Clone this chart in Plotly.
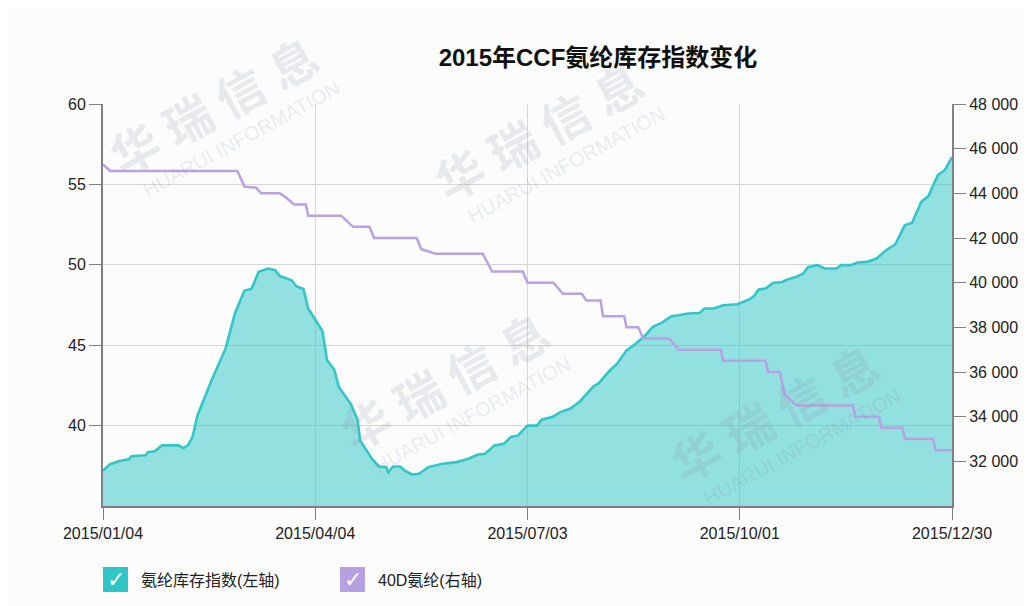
import math
import plotly.graph_objects as go

# ---------------- data ----------------
title_text = "2015年CCF氨纶库存指数变化"
series1_name = "氨纶库存指数(左轴)"
series2_name = "40D氨纶(右轴)"

spandex_index_dates = [
    "2015-01-04", "2015-01-07", "2015-01-11", "2015-01-15", "2015-01-16", "2015-01-22", "2015-01-23", "2015-01-26", "2015-01-29", "2015-02-05",
    "2015-02-07", "2015-02-09", "2015-02-11", "2015-02-13", "2015-02-19", "2015-02-25", "2015-03-01", "2015-03-05", "2015-03-08", "2015-03-11",
    "2015-03-15", "2015-03-18", "2015-03-20", "2015-03-25", "2015-03-27", "2015-03-30", "2015-04-01", "2015-04-07", "2015-04-09", "2015-04-12",
    "2015-04-14", "2015-04-19", "2015-04-22", "2015-04-23", "2015-04-28", "2015-05-01", "2015-05-04", "2015-05-05", "2015-05-07", "2015-05-10",
    "2015-05-12", "2015-05-15", "2015-05-18", "2015-05-22", "2015-05-28", "2015-06-03", "2015-06-08", "2015-06-12", "2015-06-15", "2015-06-19",
    "2015-06-23", "2015-06-26", "2015-06-29", "2015-07-03", "2015-07-07", "2015-07-09", "2015-07-14", "2015-07-17", "2015-07-21", "2015-07-25",
    "2015-07-31", "2015-08-02", "2015-08-07", "2015-08-10", "2015-08-14", "2015-08-18", "2015-08-22", "2015-08-25", "2015-08-29", "2015-09-02",
    "2015-09-05", "2015-09-09", "2015-09-14", "2015-09-16", "2015-09-20", "2015-09-24", "2015-09-30", "2015-10-05", "2015-10-07", "2015-10-09",
    "2015-10-12", "2015-10-15", "2015-10-19", "2015-10-21", "2015-10-25", "2015-10-28", "2015-10-30", "2015-11-03", "2015-11-06", "2015-11-11",
    "2015-11-13", "2015-11-17", "2015-11-20", "2015-11-24", "2015-11-28", "2015-12-02", "2015-12-06", "2015-12-10", "2015-12-13", "2015-12-17",
    "2015-12-20", "2015-12-24", "2015-12-27", "2015-12-30",
]
spandex_index_values = [
    37.2, 37.6, 37.8, 37.9, 38.1, 38.15, 38.35, 38.4, 38.77, 38.77,
    38.6, 38.77, 39.3, 40.6, 42.8, 44.8, 47.0, 48.4, 48.5, 49.56,
    49.77, 49.66, 49.3, 49.04, 48.67, 48.5, 47.28, 45.9, 44.06, 43.5,
    42.4, 41.36, 40.32, 39.08, 37.94, 37.46, 37.42, 37.1, 37.46, 37.46,
    37.2, 36.96, 37.0, 37.42, 37.63, 37.73, 37.94, 38.2, 38.25, 38.77,
    38.87, 39.3, 39.39, 40.0, 40.0, 40.37, 40.57, 40.84, 41.05, 41.47,
    42.44, 42.61, 43.44, 43.85, 44.68, 45.1, 45.62, 46.13, 46.4, 46.8,
    46.86, 46.97, 47.0, 47.28, 47.28, 47.48, 47.55, 47.84, 48.05, 48.46,
    48.52, 48.87, 48.93, 49.08, 49.25, 49.46, 49.87, 49.98, 49.77, 49.77,
    49.98, 49.98, 50.14, 50.18, 50.39, 50.9, 51.28, 52.47, 52.6, 53.92,
    54.27, 55.58, 55.9, 56.7,
]

price_40d_dates = [
    "2015-01-04", "2015-01-07", "2015-03-02", "2015-03-05", "2015-03-10", "2015-03-12", "2015-03-20", "2015-03-23", "2015-03-26", "2015-03-31",
    "2015-04-01", "2015-04-15", "2015-04-17", "2015-04-20", "2015-04-27", "2015-04-29", "2015-05-17", "2015-05-19", "2015-05-25", "2015-06-14",
    "2015-06-18", "2015-07-01", "2015-07-03", "2015-07-14", "2015-07-18", "2015-07-26", "2015-07-28", "2015-08-03", "2015-08-04", "2015-08-13",
    "2015-08-14", "2015-08-19", "2015-08-21", "2015-09-01", "2015-09-05", "2015-09-23", "2015-09-24", "2015-10-12", "2015-10-13", "2015-10-18",
    "2015-10-20", "2015-10-25", "2015-11-18", "2015-11-19", "2015-11-29", "2015-11-30", "2015-12-09", "2015-12-10", "2015-12-22", "2015-12-23",
    "2015-12-30",
]
price_40d_values = [
    45300, 45000, 45000, 44300, 44250, 44000, 44000, 43780, 43500, 43500,
    43000, 43000, 42800, 42500, 42500, 42000, 42000, 41500, 41300, 41300,
    40500, 40500, 40000, 40000, 39500, 39500, 39200, 39200, 38500, 38500,
    38000, 38000, 37500, 37500, 37000, 37000, 36500, 36500, 36000, 36000,
    35000, 34500, 34500, 34000, 34000, 33500, 33500, 33000, 33000, 32500,
    32500,
]

x_tick_dates = ["2015-01-04", "2015-04-04", "2015-07-03", "2015-10-01", "2015-12-30"]
x_tick_labels = ["2015/01/04", "2015/04/04", "2015/07/03", "2015/10/01", "2015/12/30"]
left_ticks = [40, 45, 50, 55, 60]
right_ticks = [32000, 34000, 36000, 38000, 40000, 42000, 44000, 46000, 48000]
right_tick_labels = ["{:,}".format(v).replace(",", " ") for v in right_ticks]
watermark_cn = "华瑞信息"
watermark_en = "HUARUI INFORMATION"

# ---------------- layout geometry ----------------
W, H = 1032, 606
OFF = 8  # page body margin
# plot area in screenshot pixels
L, R, T, B = 103, 952, 104, 506


def px(x):
    return (x - L) / (R - L)


def py(y):
    return (B - y) / (B - T)


TEAL = "#33c6c6"
PURPLE = "#b8a2e2"
FONT = "Liberation Sans, Arial, Noto Sans CJK SC, sans-serif"

fig = go.Figure()
fig.add_trace(go.Scatter(
    x=spandex_index_dates, y=spandex_index_values, name=series1_name,
    mode="lines", line=dict(color=TEAL, width=2.6),
    fill="tozeroy", fillcolor="rgba(40,195,196,0.5)", yaxis="y",
))
fig.add_trace(go.Scatter(
    x=price_40d_dates, y=price_40d_values, name=series2_name,
    mode="lines", line=dict(color=PURPLE, width=2.5), yaxis="y2",
))

axis_common = dict(
    showline=True, linecolor="#808080", linewidth=2,
    ticks="outside", ticklen=12, tickcolor="#808080", tickwidth=1,
    tickfont=dict(size=16, color="#222222", family=FONT),
    zeroline=False,
)

fig.update_layout(
    width=W, height=H,
    margin=dict(l=L - OFF, r=W - (R - OFF), t=T - OFF, b=H - (B - OFF), autoexpand=False),
    paper_bgcolor="#fcfcfc", plot_bgcolor="#fcfcfc",
    showlegend=False,
    title=dict(text=title_text, x=(598 - OFF) / W, xref="container", xanchor="center",
               y=1 - (58 - OFF) / H, yref="container", yanchor="middle",
               font=dict(size=24, color="#111111", family=FONT, weight="bold")),
    xaxis=dict(type="date", range=["2015-01-04", "2015-12-30"],
               tickvals=x_tick_dates, ticktext=x_tick_labels,
               showgrid=True, gridcolor="#d6d6d6", gridwidth=1, **axis_common),
    yaxis=dict(range=[35, 60], tickvals=left_ticks, showgrid=True,
               gridcolor="#d6d6d6", gridwidth=1, **axis_common),
    yaxis2=dict(range=[30000, 48000], tickvals=right_ticks, ticktext=right_tick_labels,
                overlaying="y", side="right", showgrid=False, **axis_common),
)

annotations = []
shapes = []

# watermarks (each Chinese glyph placed separately to reproduce the wide spacing)
wm_color = "rgba(135,140,165,0.17)"
ang = 28.5
dx, dy = math.cos(math.radians(ang)), -math.sin(math.radians(ang))
nx, ny = math.sin(math.radians(ang)), math.cos(math.radians(ang))  # perpendicular (down-right)
pitch = 60
for cx, cy in [(213, 104), (538, 130), (444, 380), (774, 412)]:
    for i, ch in enumerate(watermark_cn):
        k = (i - 1.5) * pitch
        annotations.append(dict(text=ch, x=px(cx + k * dx), y=py(cy + k * dy),
                                xref="paper", yref="paper", xanchor="center", yanchor="middle",
                                showarrow=False, textangle=-ang,
                                font=dict(size=48, color=wm_color, family="Noto Sans CJK SC", weight="bold")))
    ex, ey = cx + 44 * nx + 8 * dx, cy + 44 * ny + 8 * dy
    annotations.append(dict(text=watermark_en, x=px(ex), y=py(ey),
                            xref="paper", yref="paper", xanchor="center", yanchor="middle",
                            showarrow=False, textangle=-ang,
                            font=dict(size=20, color=wm_color, family=FONT)))

# custom legend (check-box style)
legend_items = [(103, series1_name, "#2ec6c6"), (340, series2_name, "#b6a0e0")]
for x0, label, col in legend_items:
    shapes.append(dict(type="rect", xref="paper", yref="paper",
                       x0=px(x0), x1=px(x0 + 25), y0=py(592), y1=py(567),
                       fillcolor=col, line=dict(width=0)))
    annotations.append(dict(text="✓", x=px(x0 + 12.5), y=py(579.5), xref="paper", yref="paper",
                            showarrow=False, xanchor="center", yanchor="middle",
                            font=dict(size=22, color="white", family="DejaVu Sans")))
    annotations.append(dict(text=label, x=px(x0 + 36), y=py(580), xref="paper", yref="paper",
                            showarrow=False, xanchor="left", yanchor="middle",
                            font=dict(size=16, color="#222222", family=FONT)))

fig.update_layout(annotations=annotations, shapes=shapes)

fig.write_html("out.html")
